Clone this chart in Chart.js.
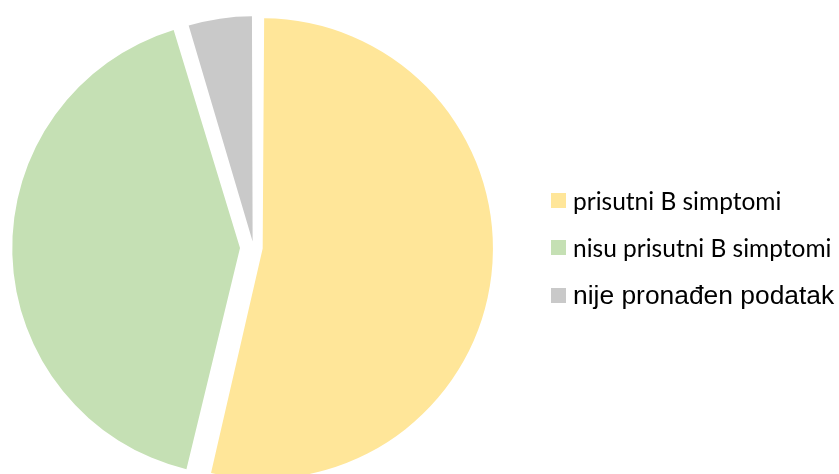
<!DOCTYPE html>
<html>
<head>
<meta charset="utf-8">
<script src="https://cdn.jsdelivr.net/npm/chart.js@4/dist/chart.umd.min.js"></script>
<style>
  html, body { margin: 0; padding: 0; background: #ffffff; }
  #wrap { position: relative; width: 839px; height: 474px; overflow: hidden; }
  #c { position: absolute; left: 0; top: 0; }
  .lg { position: absolute; left: 551px; height: 30px; display: flex; align-items: center; white-space: nowrap; color: #000; }
  .lg .box { width: 15px; height: 15px; margin-right: 7px; flex: none; }
</style>
</head>
<body>
<div id="wrap">
  <canvas id="c" width="839" height="474"></canvas>
  <div id="legend"></div>
</div>
<script>
// ---- data ----
const categories = ['prisutni B simptomi', 'nisu prisutni B simptomi', 'nije pronađen podatak'];
const values = [58, 45, 5];

// ---- styles ----
const sliceColors = ['#FFE699', '#C5E0B4', '#C9C9C9'];
const sliceOffsets = [37, 54, 24];
const legendFonts = ['24.5px Lato', '24.5px Lato', '26.4px "Liberation Sans", Arial, sans-serif'];
const legendTop = 200;
const legendGap = 47.5;

new Chart(document.getElementById('c'), {
  type: 'pie',
  data: {
    labels: categories,
    datasets: [{
      data: values,
      backgroundColor: sliceColors,
      borderWidth: 0,
      offset: sliceOffsets,
      hoverOffset: 0
    }]
  },
  options: {
    responsive: false,
    animation: false,
    radius: 221,
    layout: { padding: { left: 0, right: 332, top: 21, bottom: 0 } },
    plugins: {
      legend: { display: false },
      tooltip: { enabled: false }
    }
  }
});

// HTML legend built from the same arrays
const lg = document.getElementById('legend');
categories.forEach((name, i) => {
  const item = document.createElement('div');
  item.className = 'lg';
  item.style.top = (legendTop + i * legendGap - 15) + 'px';
  const box = document.createElement('span');
  box.className = 'box';
  box.style.background = sliceColors[i];
  const txt = document.createElement('span');
  txt.textContent = name;
  txt.style.font = legendFonts[i];
  item.appendChild(box);
  item.appendChild(txt);
  lg.appendChild(item);
});
</script>
</body>
</html>
